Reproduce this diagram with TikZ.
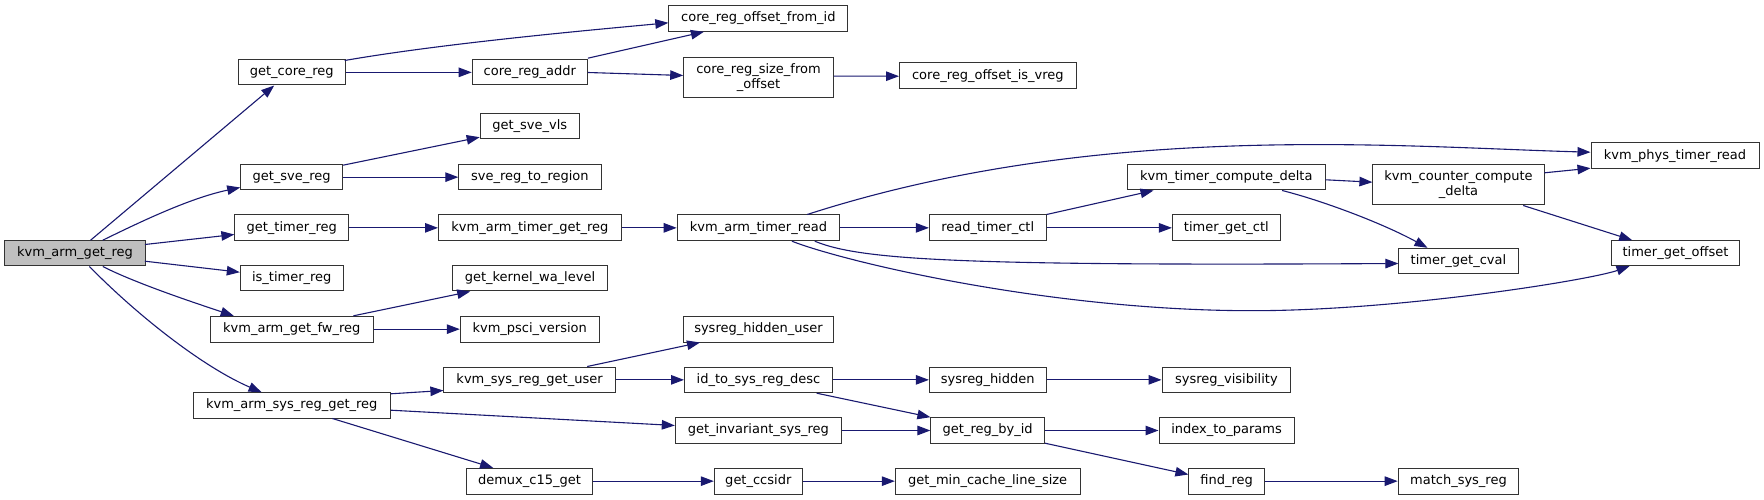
\documentclass[tikz,border=0pt]{standalone}
\usepackage{fontspec}
\setmainfont{DejaVu Sans}
\usetikzlibrary{arrows.meta,calc}
\definecolor{edgeblue}{HTML}{191970}
\definecolor{rootgray}{HTML}{BFBFBF}
\definecolor{bordc}{HTML}{333333}
\newcommand\mkfn[7]{\node[#1, minimum width={(#5-#3)*1bp}, minimum height={(#6-#4)*1bp}] (#2) at ({(#3+#5)/2},{(#4+#6)/2}) {#7};}
\tikzset{
  fn/.style={draw=bordc, fill=white, line width=1bp, inner sep=0pt, align=center,
    font=\fontsize{13bp}{15bp}\selectfont},
  rootfn/.style={fn, fill=rootgray},
  edge/.style={draw=edgeblue, line width=1.1bp, -{Triangle[length=13bp,width=9.5bp]}, edgeblue}
}
\begin{document}
\begin{tikzpicture}[x=1bp,y=-1bp]
\useasboundingbox[fill=white] (0,0) rectangle (1764,500);
\mkfn{rootfn}{root}{4.6}{240.7}{145.4}{266}{kvm\_arm\_get\_reg}
\mkfn{fn}{gcr}{238.4}{59.7}{345.2}{85}{get\_core\_reg}
\mkfn{fn}{cra}{472.2}{59.7}{587.4}{85}{core\_reg\_addr}
\mkfn{fn}{gsv}{480.2}{113.7}{579.3}{139}{get\_sve\_vls}
\mkfn{fn}{gsr}{240.7}{164.3}{342.5}{190}{get\_sve\_reg}
\mkfn{fn}{srr}{458.8}{164.3}{601}{190}{sve\_reg\_to\_region}
\mkfn{fn}{gtr}{234.9}{215}{348.6}{240.7}{get\_timer\_reg}
\mkfn{fn}{atg}{438.5}{215}{621.3}{240.7}{kvm\_arm\_timer\_get\_reg}
\mkfn{fn}{itr}{240.3}{265.3}{343.2}{291}{is\_timer\_reg}
\mkfn{fn}{gkw}{452.3}{265.3}{607.6}{291}{get\_kernel\_wa\_level}
\mkfn{fn}{afw}{210.5}{316.3}{373.1}{342}{kvm\_arm\_get\_fw\_reg}
\mkfn{fn}{psc}{460.3}{316.3}{599.1}{342}{kvm\_psci\_version}
\mkfn{fn}{sgu}{443.9}{367}{615.2}{392.7}{kvm\_sys\_reg\_get\_user}
\mkfn{fn}{asr}{193.2}{392.7}{390.3}{418}{kvm\_arm\_sys\_reg\_get\_reg}
\mkfn{fn}{dmx}{466.8}{468.3}{592.2}{494}{demux\_c15\_get}
\mkfn{fn}{crf}{668.8}{5.7}{847.9}{31.3}{core\_reg\_offset\_from\_id}
\mkfn{fn}{crs}{683.7}{57.3}{833.3}{97.3}{core\_reg\_size\_from\\\_offset}
\mkfn{fn}{crv}{899.5}{62.7}{1076.3}{88.7}{core\_reg\_offset\_is\_vreg}
\mkfn{fn}{atr}{677.2}{215}{839.8}{240.7}{kvm\_arm\_timer\_read}
\mkfn{fn}{rtc}{929.4}{215}{1046.1}{240.7}{read\_timer\_ctl}
\mkfn{fn}{tcd}{1127.6}{164.3}{1325.1}{190}{kvm\_timer\_compute\_delta}
\mkfn{fn}{tgc}{1172.4}{215}{1280.3}{240.7}{timer\_get\_ctl}
\mkfn{fn}{ccd}{1372.9}{164.3}{1544}{205}{kvm\_counter\_compute\\\_delta}
\mkfn{fn}{ptr}{1591}{143}{1759}{168.7}{kvm\_phys\_timer\_read}
\mkfn{fn}{tcv}{1398.9}{248.3}{1518}{273.7}{timer\_get\_cval}
\mkfn{fn}{tgo}{1611}{240.7}{1739.9}{265.7}{timer\_get\_offset}
\mkfn{fn}{shu}{683.3}{316.3}{833.7}{342}{sysreg\_hidden\_user}
\mkfn{fn}{isd}{684.5}{367}{832.5}{392.7}{id\_to\_sys\_reg\_desc}
\mkfn{fn}{shd}{929.4}{367}{1046.1}{392.7}{sysreg\_hidden}
\mkfn{fn}{gis}{675.3}{417.7}{841.4}{443.3}{get\_invariant\_sys\_reg}
\mkfn{fn}{grb}{930.9}{417.7}{1044.5}{443.3}{get\_reg\_by\_id}
\mkfn{fn}{gcc}{714.3}{468.3}{802.3}{494}{get\_ccsidr}
\mkfn{fn}{gml}{895.3}{468.3}{1080.1}{494}{get\_min\_cache\_line\_size}
\mkfn{fn}{svi}{1162}{367}{1290.7}{392.7}{sysreg\_visibility}
\mkfn{fn}{itp}{1159}{417.7}{1294.1}{443.3}{index\_to\_params}
\mkfn{fn}{fnd}{1188.9}{468.3}{1264.3}{494}{find\_reg}
\mkfn{fn}{msr}{1398.2}{468.3}{1518.7}{494}{match\_sys\_reg}
% root edges
\draw[edge] ($(root.north west)+(86.5,0)$) -- ($(gcr.south west)+(36.3,0)$);
\draw[edge] ($(root.north west)+(98.7,0)$) .. controls (140,222) and (190,198) .. ($(gsr.south west)+(0,-3)$);
\draw[edge] ($(root.north west)+(140.8,4.3)$) -- ($(gtr.north west)+(0,20)$);
\draw[edge] ($(root.north west)+(140.8,21)$) -- ($(itr.north west)+(0,7.4)$);
\draw[edge] ($(root.south west)+(98.7,0)$) .. controls (135,283) and (195,303) .. ($(afw.north west)+(23.7,0)$);
\draw[edge] ($(root.south west)+(85.3,0)$) .. controls (140,318) and (205,368) .. ($(asr.north west)+(68.9,0)$);
% core reg
\draw[edge] ($(gcr.north west)+(106.8,1.3)$) .. controls (445,43) and (598.8,29.3) .. ($(crf.north west)+(0,17.6)$);
\draw[edge] (gcr.east) -- (cra.west);
\draw[edge] ($(cra.north east)+(0,-1)$) -- ($(crf.south west)+(35.6,0)$);
\draw[edge] ($(cra.north east)+(0,13.3)$) -- ($(crs.north west)+(0,18.7)$);
\draw[edge] ($(crs.north east)+(0,19.4)$) -- ($(crv.north west)+(0,14)$);
% sve
\draw[edge] ($(gsr.north east)+(0,1.4)$) -- ($(gsv.south west)+(0,-2.3)$);
\draw[edge] (gsr.east) -- (srr.west);
% timer
\draw[edge] (gtr.east) -- (atg.west);
\draw[edge] (atg.east) -- (atr.west);
\draw[edge] ($(atr.north west)+(130.5,0)$) .. controls (1100,120) and (1400,147) .. ($(ptr.north west)+(0,9.7)$);
\draw[edge] (atr.east) -- (rtc.west);
\draw[edge] ($(atr.south west)+(138.1,0)$) .. controls (860,260) and (960,266) .. ($(tcv.north west)+(0,15.7)$);
\draw[edge] ($(atr.south west)+(115.2,0)$) .. controls (845,262) and (1050,310.7) .. (1252,310.7)
   .. controls (1400,310.7) and (1590,280) .. ($(tgo.south west)+(19,0)$);
\draw[edge] (rtc.north east) -- ($(tcd.south west)+(26.4,0)$);
\draw[edge] (rtc.east) -- (tgc.west);
\draw[edge] ($(tcd.north east)+(0,16)$) -- ($(ccd.north west)+(0,18.4)$);
\draw[edge] ($(tcd.south west)+(155,0)$) .. controls (1320,200) and (1380,222) .. ($(tcv.north west)+(29.1,0)$);
\draw[edge] ($(ccd.north east)+(0,9)$) -- ($(ptr.south west)+(0,-1)$);
\draw[edge] ($(ccd.south west)+(150.8,0)$) -- ($(tgo.north west)+(21.7,0)$);
% fw
\draw[edge] ($(afw.north west)+(143.5,0)$) -- ($(gkw.south west)+(18.4,0)$);
\draw[edge] (afw.east) -- (psc.west);
% sys reg
\draw[edge] ($(asr.north east)+(0,1.6)$) -- ($(sgu.south west)+(0,-2.7)$);
\draw[edge] ($(asr.north east)+(0,18)$) -- ($(gis.north west)+(0,8.3)$);
\draw[edge] ($(asr.south west)+(139.7,0)$) -- ($(dmx.north west)+(26.8,0)$);
\draw[edge] ($(sgu.north west)+(143.8,0)$) -- ($(shu.south west)+(17.2,0)$);
\draw[edge] (sgu.east) -- (isd.west);
\draw[edge] (isd.east) -- (shd.west);
\draw[edge] ($(isd.south west)+(132.7,0)$) -- (grb.north west);
\draw[edge] (shd.east) -- (svi.west);
\draw[edge] (gis.east) -- (grb.west);
\draw[edge] (grb.east) -- (itp.west);
\draw[edge] ($(grb.south east)+(0,-0.6)$) -- ($(fnd.north west)+(0,6.7)$);
\draw[edge] (dmx.east) -- (gcc.west);
\draw[edge] (gcc.east) -- (gml.west);
\draw[edge] (fnd.east) -- (msr.west);
\end{tikzpicture}
\end{document}
